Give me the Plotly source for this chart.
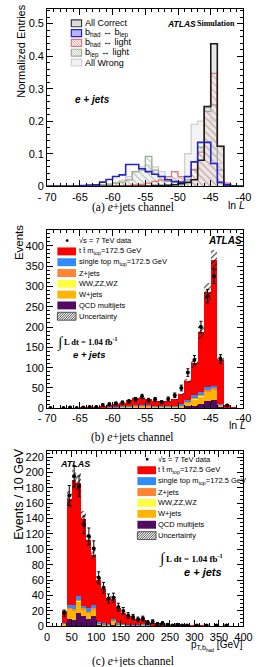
import numpy as np
import plotly.graph_objects as go

W, H = 259, 667

# ---------------- data ----------------
lnL_edges = list(range(-70, -39))          # 31 bin edges, width 1
lnL_tickvals = [-70, -65, -60, -55, -50, -45, -40]
lnL_ticktext = ["- 70", "-65", "-60", "-55", "-50", "-45", "-40"]

# (a) normalized entries per ln L bin (left edges -70 ... -41)
a_all_correct = [0, 0, 0, 0, 0, 0, 0, 0, 0, 0,
                 0, 0, 0, 0, 0.001, 0.001, 0.002, 0.002, 0.003, 0.005,
                 0.008, 0.012, 0.02, 0.08, 0.245, 0.438, 0.123, 0.005, 0.001, 0]
a_bhad_blep = [0, 0, 0, 0, 0.001, 0.002, 0.004, 0.005, 0.013, 0.021,
               0.03, 0.035, 0.067, 0.067, 0.054, 0.045, 0.037, 0.03, 0.02, 0.015,
               0.013, 0.03, 0.075, 0.135, 0.135, 0.07, 0.012, 0.004, 0.001, 0]
a_bhad_light = [0, 0, 0, 0, 0, 0, 0, 0, 0, 0.001,
                0.001, 0.002, 0.003, 0.004, 0.006, 0.01, 0.015, 0.02, 0.03, 0.045,
                0.03, 0.03, 0.052, 0.105, 0.245, 0.347, 0.123, 0.01, 0.002, 0]
a_blep_light = [0, 0, 0, 0, 0, 0, 0, 0.002, 0.004, 0.006,
                0.01, 0.013, 0.02, 0.045, 0.05, 0.092, 0.05, 0.03, 0.015, 0.012,
                0.01, 0.02, 0.05, 0.12, 0.23, 0.25, 0.05, 0.005, 0.001, 0]
a_all_wrong = [0, 0, 0, 0, 0, 0, 0.002, 0.003, 0.005, 0.008,
               0.012, 0.018, 0.03, 0.045, 0.06, 0.065, 0.06, 0.045, 0.03, 0.025,
               0.025, 0.1, 0.19, 0.2, 0.24, 0.2, 0.07, 0.01, 0.002, 0]

# (b) events per ln L bin
b_data = [1, 0, 1, 2, 1, 2, 3, 3, 8, 10,
          12, 14, 17, 22, 29, 20, 22, 15, 23, 32,
          50, 88, 119, 200, 276, 325, 121, 7, 0, 0]
b_ttbar = [0.2, 0.2, 0.3, 0.4, 0.45, 0.55, 0.7, 1.3, 3, 5,
           8, 9, 14, 19, 17, 15, 13, 11.5, 11.5, 15,
           25, 47, 79, 147, 233, 309, 110, 6.5, 0.9, 0.2]
b_single_top = [0, 0, 0, 0, 0.05, 0.1, 0.1, 0.2, 0.3, 0.5,
                0.7, 0.9, 1.1, 1.4, 1.5, 1.3, 1.1, 1, 1, 1.3,
                2.5, 4.5, 7.5, 8, 8, 6, 1, 0.2, 0, 0]
b_zjets = [0, 0, 0, 0, 0, 0.05, 0.1, 0.1, 0.2, 0.3,
           0.4, 0.5, 0.6, 0.7, 0.8, 0.7, 0.6, 0.5, 0.5, 0.6,
           1, 1.5, 2, 2, 2.5, 3, 1, 0.1, 0, 0]
b_diboson = [0, 0, 0, 0, 0, 0, 0, 0, 0.05, 0.1,
             0.1, 0.1, 0.15, 0.2, 0.2, 0.2, 0.15, 0.15, 0.15, 0.2,
             0.3, 0.4, 0.5, 0.6, 0.7, 0.8, 0.2, 0, 0, 0]
b_wjets = [0.1, 0.1, 0.1, 0.1, 0.2, 0.3, 0.4, 0.6, 1, 1.3,
           1.8, 2.2, 2.8, 3.3, 3.5, 3, 2.6, 2.3, 2.3, 3,
           4, 10, 16, 18, 24, 25, 5, 0.8, 0.1, 0]
b_qcd = [0, 0, 0, 0, 0, 0, 0.2, 0.3, 0.5, 0.8,
         1, 1.2, 1.5, 2, 2, 2, 1.5, 1.5, 1.5, 2,
         3, 5, 7, 12, 17, 21, 3, 0.3, 0, 0]
b_unc = [0.05, 0.05, 0.1, 0.1, 0.1, 0.15, 0.2, 0.3, 0.5, 0.7,
         1, 1.2, 1.5, 2, 2, 1.8, 1.6, 1.4, 1.4, 1.8,
         3, 5, 12, 17, 24, 26, 9, 1, 0.2, 0.05]

# (c) events per 10 GeV in pT of the hadronic b
pt_edges = list(range(0, 410, 10))
pt_tickvals = [0, 50, 100, 150, 200, 250, 300, 350, 400]
c_data = [0, 0, 0, 17, 170, 195, 182, 132, 117, 101,
          63, 50, 36, 37, 25, 20, 14, 12, 9, 10,
          5, 6, 3, 4, 2, 1, 2, 1, 1, 0,
          1, 0, 1, 0, 1, 0, 1, 0, 0, 0]
c_ttbar = [0, 0, 0, 15, 137, 163, 147, 113, 89, 65,
           55, 44, 33, 27, 20, 15, 10.6, 10, 8.4, 5.5,
           4.8, 4, 3.2, 2.3, 2, 1.6, 1.2, 1, 0.8, 0.8,
           0.7, 0.5, 0.5, 0.5, 0.4, 0.3, 0.3, 0.2, 0.2, 0.2]
c_single_top = [0, 0, 0, 0.5, 4, 5, 5, 3.5, 4, 4.5,
                1.5, 1.5, 1.2, 1.2, 1, 0.8, 0.6, 0.5, 0.4, 0.4,
                0.3, 0.3, 0.2, 0.2, 0.1, 0.1, 0.1, 0.1, 0.1, 0.1,
                0, 0, 0, 0, 0, 0, 0, 0, 0, 0]
c_zjets = [0, 0, 0, 0.3, 1, 1, 1, 1, 1, 1,
           0.5, 0.4, 0.3, 0.4, 0.3, 0.2, 0.2, 0.2, 0.1, 0.2,
           0.1, 0.1, 0.1, 0.1, 0, 0, 0, 0, 0, 0,
           0, 0, 0, 0, 0, 0, 0, 0, 0, 0]
c_diboson = [0, 0, 0, 0.1, 0.3, 0.3, 0.3, 0.3, 0.3, 0.3,
             0.2, 0.2, 0.1, 0.1, 0.1, 0.1, 0.1, 0.1, 0.1, 0.1,
             0, 0, 0, 0, 0, 0, 0, 0, 0, 0,
             0, 0, 0, 0, 0, 0, 0, 0, 0, 0]
c_wjets = [0, 0, 0, 3, 14, 13, 15, 9, 8, 9,
           1.5, 1, 1, 6, 1.5, 1, 1, 0.8, 0.6, 2.5,
           0.5, 0.4, 0.3, 0.3, 0.2, 0.2, 0.2, 0.1, 0.1, 0.1,
           0.1, 0.1, 0, 0, 0, 0, 0, 0, 0, 0]
c_qcd = [0, 0, 0, 1, 9, 8, 18, 13, 10, 13,
         2, 1, 1, 1.5, 1, 0.8, 0.5, 0.5, 0.4, 0.3,
         0.3, 0.2, 0.2, 0.2, 0.1, 0.1, 0.1, 0.1, 0, 0,
         0, 0, 0, 0, 0, 0, 0, 0, 0, 0]
c_unc = [0, 0, 0, 1.5, 11, 13, 13, 10, 8, 7,
         4.5, 3.5, 3, 3, 2, 1.5, 1.2, 1, 0.8, 0.8,
         0.5, 0.5, 0.4, 0.3, 0.3, 0.2, 0.2, 0.1, 0.1, 0.1,
         0.1, 0.1, 0.05, 0.05, 0.05, 0.05, 0.05, 0.05, 0.05, 0.05]

# ---------------- styling ----------------
C_TT = "#ff0000"
C_ST = "#2f8cff"
C_Z = "#ff8533"
C_VV = "#ffff40"
C_W = "#ffb400"
C_QCD = "#520a63"
SANS = "Liberation Sans"
SERIF = "Liberation Serif"


def px(x):
    return x / W


def py(y):
    return 1 - y / H


fig = go.Figure()


def centers(edges):
    e = np.asarray(edges, dtype=float)
    return (e[:-1] + e[1:]) / 2, np.diff(e)


# ---------------- panel (a) ----------------
ca, wa = centers(lnL_edges)


def hist_fill(x, w, vals, color, xa, ya, pattern=None):
    m = dict(color=color, line=dict(width=0))
    if pattern:
        m["pattern"] = pattern
    fig.add_trace(go.Bar(x=x, y=vals, width=w, marker=m, xaxis=xa, yaxis=ya,
                         showlegend=False, hoverinfo="skip"))


def hist_line(edges, vals, color, width, xa, ya):
    yy = list(vals) + [vals[-1]]
    fig.add_trace(go.Scatter(x=edges, y=yy, mode="lines", line=dict(color=color, width=width, shape="hv"),
                             xaxis=xa, yaxis=ya, showlegend=False, hoverinfo="skip"))


hist_fill(ca, wa, a_all_wrong, "rgba(238,238,238,0.7)", "x", "y")
hist_fill(ca, wa, a_all_correct, "rgba(228,228,228,0.8)", "x", "y")
hist_fill(ca, wa, a_blep_light, "rgba(0,0,0,0)", "x", "y",
          dict(shape="\\", fgcolor="#a9b9a9", size=5, solidity=0.18, fillmode="replace"))
hist_fill(ca, wa, a_bhad_light, "rgba(0,0,0,0)", "x", "y",
          dict(shape="\\", fgcolor="#e6a0a0", size=5, solidity=0.18, fillmode="replace"))
hist_line(lnL_edges, a_all_wrong, "#cfcfcf", 1.3, "x", "y")
hist_line(lnL_edges, a_blep_light, "#9aab9a", 1.3, "x", "y")
hist_line(lnL_edges, a_bhad_light, "#e07878", 1.3, "x", "y")
hist_line(lnL_edges, a_all_correct, "#1a1a1a", 1.6, "x", "y")
hist_line(lnL_edges, a_bhad_blep, "#2323c8", 1.6, "x", "y")


# ---------------- stacked panels ----------------
def stack_panel(x, w, comps, unc, data, xa, ya):
    base = np.zeros(len(x))
    for vals, col in comps:
        v = np.asarray(vals, dtype=float)
        fig.add_trace(go.Bar(x=x, y=v, base=base.copy(), width=w,
                             marker=dict(color=col, line=dict(width=0)),
                             xaxis=xa, yaxis=ya, showlegend=False, hoverinfo="skip"))
        base = base + v
    u = np.asarray(unc, dtype=float)
    fig.add_trace(go.Bar(x=x, y=2 * u, base=base - u, width=w,
                         marker=dict(color="rgba(0,0,0,0)", line=dict(width=0),
                                     pattern=dict(shape="/", fgcolor="#222222", size=4,
                                                  solidity=0.25, fillmode="replace")),
                         xaxis=xa, yaxis=ya, showlegend=False, hoverinfo="skip"))
    d = np.asarray(data, dtype=float)
    yd = [v if v > 0 else None for v in d]
    fig.add_trace(go.Scatter(x=x, y=yd, mode="markers",
                             marker=dict(color="black", size=4),
                             error_y=dict(type="data", array=np.sqrt(d), color="black",
                                          thickness=1, width=1.5),
                             xaxis=xa, yaxis=ya, showlegend=False, hoverinfo="skip"))


cb, wb = centers(lnL_edges)
stack_panel(cb, wb, [(b_qcd, C_QCD), (b_wjets, C_W), (b_diboson, C_VV), (b_zjets, C_Z),
                     (b_single_top, C_ST), (b_ttbar, C_TT)], b_unc, b_data, "x2", "y2")
cc, wc = centers(pt_edges)
stack_panel(cc, wc, [(c_qcd, C_QCD), (c_wjets, C_W), (c_diboson, C_VV), (c_zjets, C_Z),
                     (c_single_top, C_ST), (c_ttbar, C_TT)], c_unc, c_data, "x3", "y3")

# ---------------- axes ----------------
XD = [px(41), px(252)]
tickfont = dict(family=SANS, size=11, color="black")


def axis_common():
    return dict(showline=True, linecolor="black", linewidth=1, mirror="allticks",
                ticks="inside", ticklen=6, tickwidth=1, tickcolor="black",
                showgrid=False, zeroline=False, tickfont=tickfont, fixedrange=True,
                ticklabeloverflow="allow")


def xax(dom, anchor, rng, tickvals, ticktext, minor_dtick):
    d = axis_common()
    d.update(domain=dom, anchor=anchor, range=rng, tickmode="array", tickvals=tickvals,
             ticktext=ticktext,
             minor=dict(ticks="inside", ticklen=3, tickcolor="black", dtick=minor_dtick,
                        tick0=rng[0], showgrid=False))
    return d


def yax(dom, anchor, rng, dtick, minor_dtick):
    d = axis_common()
    d.update(domain=dom, anchor=anchor, range=rng, dtick=dtick, tick0=0,
             minor=dict(ticks="inside", ticklen=3, tickcolor="black", dtick=minor_dtick,
                        tick0=0, showgrid=False))
    return d


fig.update_layout(
    width=W, height=H, margin=dict(l=0, r=0, t=0, b=0),
    paper_bgcolor="white", plot_bgcolor="white",
    barmode="overlay", bargap=0, showlegend=False,
    xaxis=xax(XD, "y", [-70, -40], lnL_tickvals, lnL_ticktext, 1),
    yaxis=yax([py(188), py(9)], "x", [0, 0.545], 0.1, 0.02),
    xaxis2=xax(XD, "y2", [-70, -40], lnL_tickvals, lnL_ticktext, 1),
    yaxis2=yax([py(412), py(232)], "x2", [0, 439], 50, 10),
    xaxis3=xax(XD, "y3", [0, 400], pt_tickvals, [str(v) for v in pt_tickvals], 10),
    yaxis3=yax([py(632), py(455)], "x3", [0, 228], 20, 5),
)

# ---------------- annotations / legends ----------------
anns = []
shapes = []


def txt(text, x, y, size, family=SANS, xanchor="left", yanchor="middle", angle=0, color="black"):
    anns.append(dict(text=text, x=px(x), y=py(y), xref="paper", yref="paper",
                     xanchor=xanchor, yanchor=yanchor, showarrow=False, textangle=angle,
                     borderpad=0, font=dict(family=family, size=size, color=color)))


def box(x0, y0, x1, y1, fill, line=None, lw=0):
    shapes.append(dict(type="rect", xref="paper", yref="paper",
                       x0=px(x0), x1=px(x1), y0=py(y1), y1=py(y0),
                       fillcolor=fill, line=dict(color=line or fill, width=lw)))


def hatch(x0, y0, x1, y1, color, spacing=3.0, direction="/", lw=0.8):
    path = ""
    if direction == "/":
        c = x0 + y0
        while c <= x1 + y1:
            xa = max(x0, c - y1)
            xb = min(x1, c - y0)
            if xb > xa:
                path += "M%.4f,%.4f L%.4f,%.4f " % (px(xa), py(c - xa), px(xb), py(c - xb))
            c += spacing
    else:
        c = x0 - y1
        while c <= x1 - y0:
            xa = max(x0, c + y0)
            xb = min(x1, c + y1)
            if xb > xa:
                path += "M%.4f,%.4f L%.4f,%.4f " % (px(xa), py(xa - c), px(xb), py(xb - c))
            c += spacing
    shapes.append(dict(type="path", xref="paper", yref="paper", path=path,
                       line=dict(color=color, width=lw)))


# axis titles
txt("Normalized Entries", 12, 52, 11, angle=-90, xanchor="center")
txt("Events", 10, 245, 11.5, angle=-90, xanchor="center")
txt("Events / 10 GeV", 10, 498, 12.5, angle=-90, xanchor="center")
txt("ln <i>L</i>", 255, 207, 10.5, xanchor="right")
txt("ln <i>L</i>", 256, 429, 10.5, xanchor="right")
txt("p<sub>T,b<sub>had</sub></sub> [GeV]", 253, 652, 10, xanchor="right")

# captions
txt("(a) <i>e</i>+jets channel", 133, 209, 11.5, family=SERIF, xanchor="center")
txt("(b) <i>e</i>+jets channel", 133, 441, 11.5, family=SERIF, xanchor="center")
txt("(c) <i>e</i>+jets channel", 133, 668, 11.5, family=SERIF, xanchor="center")

# panel (a) legend
a_leg = [("All Correct", "#dcdcdc", "#3a3a3a", None),
         ("b<sub>had</sub> ↔ b<sub>lep</sub>", "rgba(90,90,255,0.45)", "#2323c8", None),
         ("b<sub>had</sub> ↔ light", "white", "#e07878", "#e07878"),
         ("b<sub>lep</sub> ↔ light", "white", "#9aab9a", "#9aab9a"),
         ("All Wrong", "#f2f2f2", "#cfcfcf", None)]
for k, (lab, fill, edge, hcol) in enumerate(a_leg):
    yc = 23.5 + 9.9 * k
    box(67, yc - 3.5, 78, yc + 3.5, fill, edge, 1.2)
    if hcol:
        hatch(67.5, yc - 3, 77.5, yc + 3, hcol, 2.5, "\\", 0.7)
    txt(lab, 81, yc, 9)
txt("<b><i>ATLAS</i></b>", 169, 24, 8.5)
txt("<b>Simulation</b>", 244, 24, 8, family=SERIF, xanchor="right")
txt("<b><i>e + jets</i></b>", 70, 100, 10)

# stacked legends
def stack_legend(xb, y0, dy, xt, size):
    entries = [("t t̄ m<sub>top</sub>=172.5 GeV", C_TT),
               ("single top m<sub>top</sub>=172.5 GeV", C_ST),
               ("Z+jets", C_Z),
               ("WW,ZZ,WZ", C_VV),
               ("W+jets", C_W),
               ("QCD multijets", C_QCD),
               ("Uncertainty", None)]
    shapes.append(dict(type="circle", xref="paper", yref="paper",
                       x0=px(xb + 9), x1=px(xb + 12), y0=py(y0 + 1.5), y1=py(y0 - 1.5),
                       fillcolor="black", line=dict(color="black", width=0)))
    txt("√s = 7 TeV data", xt, y0, size)
    for k, (lab, col) in enumerate(entries):
        yc = y0 + dy * (k + 1)
        if col:
            box(xb, yc - 4, xb + 20, yc + 4, col)
        else:
            box(xb, yc - 4, xb + 20, yc + 4, "white", "#333333", 0.8)
            hatch(xb, yc - 4, xb + 20, yc + 4, "#222222", 2.5, "/", 0.8)
        txt(lab, xt, yc, size)


stack_legend(52, 242.8, 10.9, 74, 7.5)
stack_legend(138, 463.5, 11.0, 159, 7.5)

# panel (b) labels
txt("<b><i>ATLAS</i></b>", 213, 243, 10)
txt("∫", 51, 346, 15, family=SERIF)
txt("<b>L dt = 1.04 fb<sup>-1</sup></b>", 58, 345, 8.5, family=SERIF)
txt("<b><i>e + jets</i></b>", 68, 358, 9.5)

# panel (c) labels
txt("<b><i>ATLAS</i></b>", 54, 468, 9)
txt("∫", 160, 564, 15, family=SERIF)
txt("<b>L dt = 1.04 fb<sup>-1</sup></b>", 168, 563, 9, family=SERIF)
txt("<b><i>e + jets</i></b>", 187, 577, 11)

fig.update_layout(annotations=anns, shapes=shapes)
fig.write_html("out.html")
